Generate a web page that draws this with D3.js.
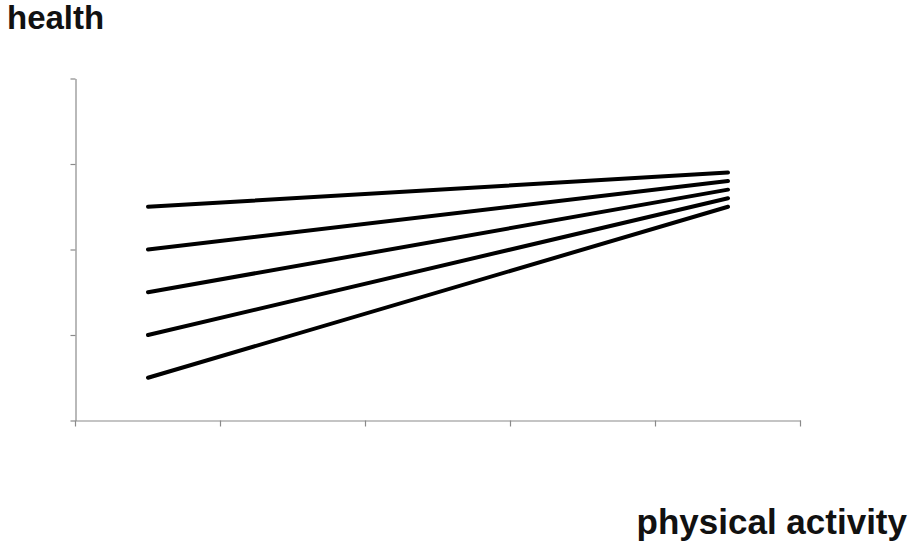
<!DOCTYPE html>
<html>
<head>
<meta charset="utf-8">
<script src="https://d3js.org/d3.v7.min.js"></script>
<style>
html,body{margin:0;padding:0;background:#fff;}
svg{display:block;}
</style>
</head>
<body>
<svg id="chart" width="914" height="550"></svg>
<script>
const categories = ["1", "2", "3", "4", "5"];
const seriesNames = ["s1", "s2", "s3", "s4", "s5"];
const startValues = [2.5, 2.0, 1.5, 1.0, 0.5];
const endValues = [2.9, 2.8, 2.7, 2.6, 2.5];
const yTicks = [0, 1, 2, 3, 4];
const xTitle = "physical activity";
const yTitle = "health";

(function () {
const svg = d3.select("#chart");
const mLeft = 75.5, mRight = 800.5, mTop = 78.5, mBottom = 420.5;

const x = d3.scaleBand().domain(categories).range([mLeft, mRight]).paddingInner(0).paddingOuter(0);
const y = d3.scaleLinear().domain([0, 4]).range([mBottom, mTop]);

const axisColor = "#8a8a8a";

// y axis
const gy = svg.append("g").attr("transform", `translate(${mLeft},0)`)
  .call(d3.axisLeft(y).tickValues(yTicks).tickSize(5).tickSizeOuter(0).tickFormat(""));
gy.selectAll("path,line").attr("stroke", axisColor).attr("stroke-width", 1.2);

// x axis
const gx = svg.append("g").attr("transform", `translate(0,${mBottom})`)
  .call(d3.axisBottom(x).tickSize(0).tickSizeOuter(0).tickFormat(""));
gx.selectAll("path").attr("stroke", axisColor).attr("stroke-width", 1.2);
gx.selectAll(".tick").remove();
// category boundary ticks
const boundaries = categories.map(c => x(c)).concat([x(categories[categories.length - 1]) + x.bandwidth()]);
svg.append("g").selectAll("line").data(boundaries).join("line")
  .attr("x1", d => d).attr("x2", d => d)
  .attr("y1", mBottom).attr("y2", mBottom + 6)
  .attr("stroke", axisColor).attr("stroke-width", 1.2);

// lines
const data = seriesNames.map((s, i) => [
  { c: categories[0], v: startValues[i] },
  { c: categories[categories.length - 1], v: endValues[i] }
]);
const line = d3.line().x(d => x(d.c) + x.bandwidth() / 2).y(d => y(d.v));
svg.append("g").selectAll("path").data(data).join("path")
  .attr("d", line)
  .attr("fill", "none")
  .attr("stroke", "#000")
  .attr("stroke-width", 4)
  .attr("stroke-linecap", "round");

// titles
svg.append("text").attr("x", 7).attr("y", 29)
  .attr("font-family", "Liberation Sans, Arial, sans-serif")
  .attr("font-weight", "bold").attr("font-size", 33).attr("fill", "#111")
  .text(yTitle);
svg.append("text").attr("x", 907).attr("y", 534).attr("text-anchor", "end")
  .attr("font-family", "Liberation Sans, Arial, sans-serif")
  .attr("font-weight", "bold").attr("font-size", 35).attr("fill", "#111")
  .text(xTitle);
})();
</script>
</body>
</html>
